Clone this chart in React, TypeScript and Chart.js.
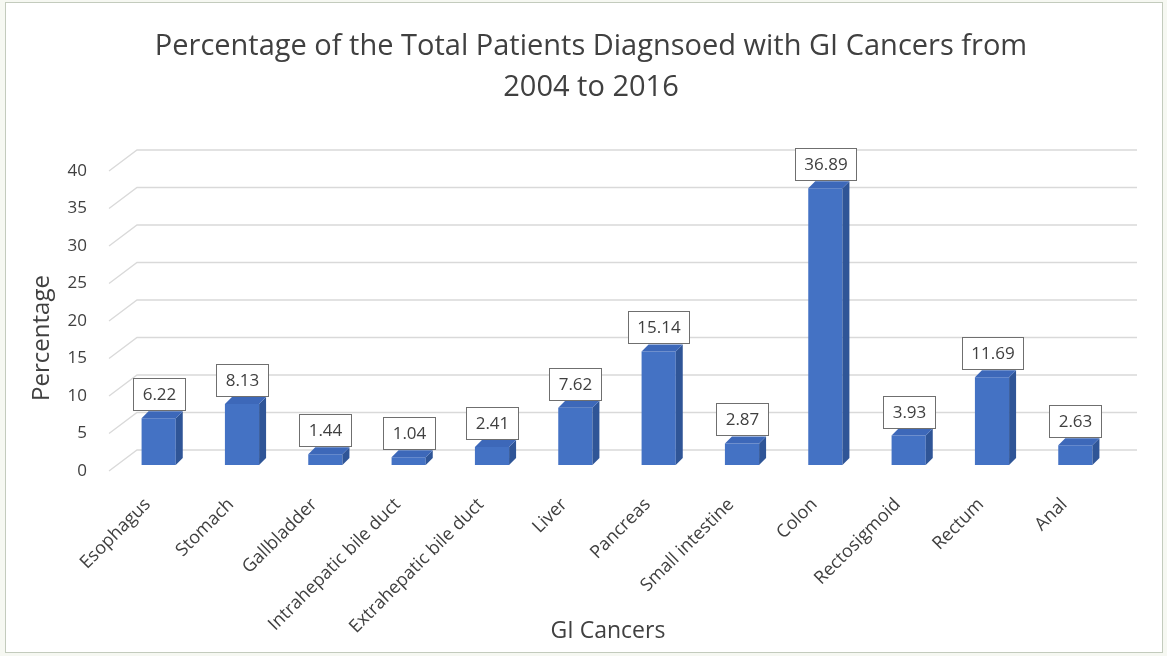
import { useEffect, useRef } from "react";
import { Chart, registerables } from "chart.js";

Chart.register(...registerables);

// Share of all GI-cancer patients by site, 2004–2016
const categories = [
  "Esophagus",
  "Stomach",
  "Gallbladder",
  "Intrahepatic bile duct",
  "Extrahepatic bile duct",
  "Liver",
  "Pancreas",
  "Small intestine",
  "Colon",
  "Rectosigmoid",
  "Rectum",
  "Anal",
];
const percentages = [6.22, 8.13, 1.44, 1.04, 2.41, 7.62, 15.14, 2.87, 36.89, 3.93, 11.69, 2.63];

const yMin = 0;
const yMax = 40;
const yStep = 5;

const chartTitle = ["Percentage of the Total Patients Diagnsoed with GI Cancers from", "2004 to 2016"];
const xAxisTitle = "GI Cancers";
const yAxisTitle = "Percentage";

const FONT = '"Open Sans", "Noto Sans", sans-serif';
const TEXT = "#404040";
const FRONT = "#4472c4";
const SIDE = "#2f5597";
const TOP = "#3d68b9";
const GRID = "#d9d9d9";

// extrusion of each bar (right / up)
const DEPTH_X = 7;
const DEPTH_Y = 7;

const perspectivePlugin = {
  id: "perspective",
  // back wall grid: slanted from the floor edge to the wall, then across the wall
  beforeDatasetsDraw(chart: any) {
    const { ctx, chartArea } = chart;
    const yScale = chart.scales.y;
    ctx.save();
    ctx.strokeStyle = GRID;
    ctx.lineWidth = 1.3;
    yScale.ticks.forEach((t: any) => {
      const py = yScale.getPixelForValue(t.value);
      ctx.beginPath();
      ctx.moveTo(chartArea.left - 8, py + 6);
      ctx.lineTo(chartArea.left + 20, py - 15);
      ctx.lineTo(chartArea.right + 20, py - 15);
      ctx.stroke();
    });
    ctx.restore();
  },
  afterDatasetsDraw(chart: any) {
    const { ctx } = chart;
    const meta = chart.getDatasetMeta(0);
    ctx.save();
    meta.data.forEach((bar: any, i: number) => {
      const { x, y, base, width } = bar.getProps(["x", "y", "base", "width"], true);
      const l = x - width / 2;
      const r = x + width / 2;

      // side face
      ctx.fillStyle = SIDE;
      ctx.beginPath();
      ctx.moveTo(r, y);
      ctx.lineTo(r + DEPTH_X, y - DEPTH_Y);
      ctx.lineTo(r + DEPTH_X, base - DEPTH_Y);
      ctx.lineTo(r, base);
      ctx.closePath();
      ctx.fill();

      // top face
      ctx.fillStyle = TOP;
      ctx.beginPath();
      ctx.moveTo(l, y);
      ctx.lineTo(l + DEPTH_X, y - DEPTH_Y);
      ctx.lineTo(r + DEPTH_X, y - DEPTH_Y);
      ctx.lineTo(r, y);
      ctx.closePath();
      ctx.fill();

      // value callout
      const text = percentages[i].toFixed(2);
      ctx.font = `17px ${FONT}`;
      const tw = ctx.measureText(text).width;
      const bw = Math.round(tw + 18);
      const bh = 32;
      const bx = Math.round(x - bw / 2) + 0.5;
      const by = Math.round(y - DEPTH_Y - 1 - bh) + 0.5;
      ctx.fillStyle = "#ffffff";
      ctx.fillRect(bx, by, bw, bh);
      ctx.strokeStyle = "#6f6f6f";
      ctx.lineWidth = 1;
      ctx.strokeRect(bx, by, bw, bh);
      ctx.fillStyle = TEXT;
      ctx.textAlign = "center";
      ctx.textBaseline = "middle";
      ctx.fillText(text, bx + bw / 2, by + bh / 2 + 1);
    });
    ctx.restore();
  },
  // chart title and axis titles
  afterDraw(chart: any) {
    const { ctx } = chart;
    ctx.save();
    ctx.fillStyle = TEXT;
    ctx.textAlign = "center";
    ctx.textBaseline = "middle";
    ctx.font = `29px ${FONT}`;
    chartTitle.forEach((line, i) => ctx.fillText(line, 591, 47 + i * 41));

    ctx.font = `23px ${FONT}`;
    ctx.fillText(xAxisTitle, 608, 631);

    ctx.font = `24px ${FONT}`;
    ctx.translate(42, 338);
    ctx.rotate(-Math.PI / 2);
    ctx.fillText(yAxisTitle, 0, 0);
    ctx.restore();
  },
};

export default function App() {
  const canvasRef = useRef<HTMLCanvasElement | null>(null);

  useEffect(() => {
    const canvas = canvasRef.current;
    if (!canvas) return;
    const chart = new Chart(canvas, {
      type: "bar",
      data: {
        labels: categories,
        datasets: [
          {
            data: percentages,
            backgroundColor: FRONT,
            borderWidth: 0,
            barPercentage: 0.41,
            categoryPercentage: 1,
          },
        ],
      },
      options: {
        responsive: false,
        animation: false,
        devicePixelRatio: 1,
        layout: { padding: { top: 165, left: 10, right: 50, bottom: 10 } },
        plugins: {
          legend: { display: false },
          title: { display: false },
          tooltip: { enabled: false },
        },
        scales: {
          x: {
            grid: { display: false, drawTicks: false },
            border: { display: false },
            ticks: {
              autoSkip: false,
              minRotation: 45,
              maxRotation: 45,
              labelOffset: -11,
              padding: 29,
              color: TEXT,
              font: { family: FONT, size: 18 },
            },
            afterFit: (scale: any) => {
              scale.height = 181;
            },
          },
          y: {
            min: yMin,
            max: yMax,
            ticks: {
              stepSize: yStep,
              labelOffset: 6,
              padding: 30,
              color: TEXT,
              font: { family: FONT, size: 17 },
            },
            grid: { display: false, drawTicks: false },
            border: { display: false },
            afterFit: (scale: any) => {
              scale.width = 107;
            },
          },
        },
      },
      plugins: [perspectivePlugin],
    });
    return () => chart.destroy();
  }, []);

  return (
    <div
      style={{
        position: "fixed",
        left: 0,
        top: 0,
        width: 1167,
        height: 656,
        background: "#f6f8f2",
      }}
    >
      <div
        style={{
          position: "absolute",
          left: 5,
          top: 2,
          width: 1156,
          height: 649,
          background: "#ffffff",
          border: "1px solid #c3cbbd",
        }}
      />
      <canvas
        ref={canvasRef}
        width={1167}
        height={656}
        style={{ position: "absolute", left: 0, top: 0, display: "block" }}
      />
    </div>
  );
}
